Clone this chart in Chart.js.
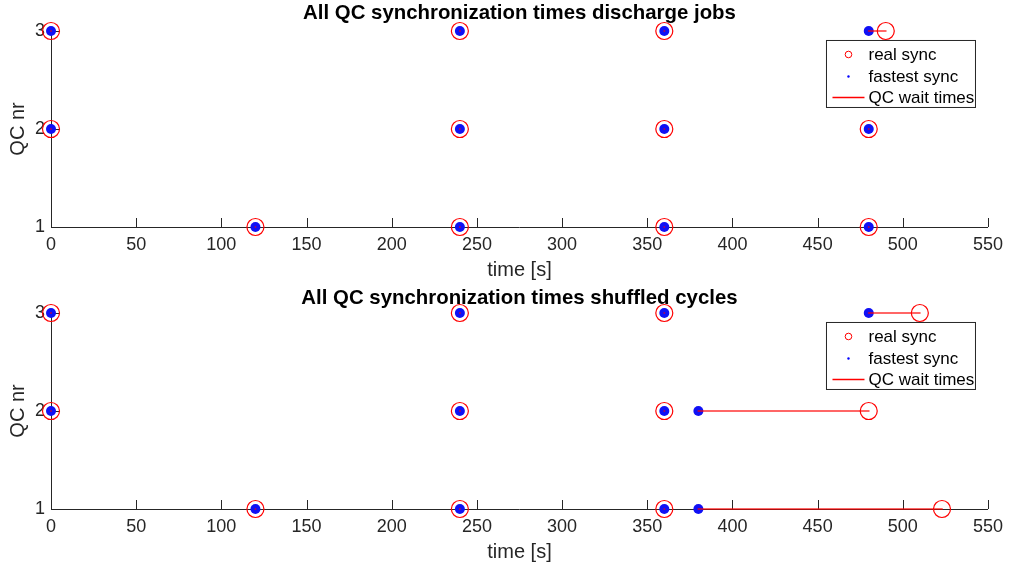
<!DOCTYPE html>
<html>
<head>
<meta charset="utf-8">
<title>QC synchronization times</title>
<script src="https://cdn.jsdelivr.net/npm/chart.js@4.4.0/dist/chart.umd.min.js"></script>
<style>
  body { margin: 0; background: #fff; }
  .panel { position: absolute; left: 0; width: 1010px; height: 286px; }
</style>
</head>
<body>
<div class="panel" style="top:0"><canvas id="discharge-chart" width="1010" height="286"></canvas></div>
<div class="panel" style="top:286px"><canvas id="shuffled-chart" width="1010" height="286"></canvas></div>
<script>
// QC number of every sync event (same order in both runs)
const qcNumbers = [3, 3, 3, 3, 2, 2, 2, 2, 1, 1, 1, 1];

// Discharge jobs: fastest possible vs. real sync time [s]
const dischargeFastest = [0, 240, 360, 480, 0, 240, 360, 480, 120, 240, 360, 480];
const dischargeReal = [0, 240, 360, 490, 0, 240, 360, 480, 120, 240, 360, 480];

// Shuffled cycles: fastest possible vs. real sync time [s]
const shuffledFastest = [0, 240, 360, 480, 0, 240, 360, 380, 120, 240, 360, 380];
const shuffledReal = [0, 240, 360, 510, 0, 240, 360, 480, 120, 240, 360, 523];

const xTicks = [0, 50, 100, 150, 200, 250, 300, 350, 400, 450, 500, 550];
const yTicks = [1, 2, 3];

const legendLabels = ['real sync', 'fastest sync', 'QC wait times'];

const AXIS_COLOR = '#262626';
const FONT = '"Liberation Sans", Arial, Helvetica, sans-serif';
const WAIT_COLOR = 'rgba(255, 0, 0, 0.6)';

Chart.defaults.font.family = FONT;
Chart.defaults.color = AXIS_COLOR;

// Inward tick marks, like the original plotting tool draws them
const innerTicks = {
  id: 'innerTicks',
  beforeDatasetsDraw(chart) {
    const { ctx, chartArea, scales } = chart;
    ctx.save();
    ctx.strokeStyle = AXIS_COLOR;
    ctx.lineWidth = 1;
    ctx.beginPath();
    scales.x.ticks.forEach(t => {
      const px = Math.round(scales.x.getPixelForValue(t.value)) + 0.5;
      ctx.moveTo(px, chartArea.bottom);
      ctx.lineTo(px, chartArea.bottom - 9);
    });
    scales.y.ticks.forEach(t => {
      const py = Math.round(scales.y.getPixelForValue(t.value)) + 0.5;
      ctx.moveTo(chartArea.left, py);
      ctx.lineTo(chartArea.left + 9, py);
    });
    ctx.stroke();
    ctx.restore();
  }
};

// Boxed legend in the upper right corner of the axes
const boxLegend = {
  id: 'boxLegend',
  afterDraw(chart) {
    const { ctx, chartArea } = chart;
    const x0 = chartArea.right - 161.5;
    const y0 = chartArea.top + 9.5;
    const w = 149;
    const h = 67;
    ctx.save();
    ctx.fillStyle = '#fff';
    ctx.fillRect(x0, y0, w, h);
    ctx.strokeStyle = AXIS_COLOR;
    ctx.lineWidth = 1;
    ctx.strokeRect(x0, y0, w, h);

    const mx = x0 + 22;
    const rows = [y0 + 14, y0 + 36, y0 + 57];

    // real sync marker
    ctx.strokeStyle = '#ff0000';
    ctx.beginPath();
    ctx.arc(mx, rows[0], 3.3, 0, Math.PI * 2);
    ctx.stroke();
    // fastest sync marker
    ctx.fillStyle = '#0000ff';
    ctx.beginPath();
    ctx.arc(mx, rows[1], 1.2, 0, Math.PI * 2);
    ctx.fill();
    // wait time line
    ctx.strokeStyle = '#ff0000';
    ctx.lineWidth = 1.3;
    ctx.beginPath();
    ctx.moveTo(x0 + 6, rows[2]);
    ctx.lineTo(x0 + 38, rows[2]);
    ctx.stroke();

    ctx.fillStyle = '#000';
    ctx.font = '17px ' + FONT;
    ctx.textBaseline = 'middle';
    legendLabels.forEach((label, i) => ctx.fillText(label, x0 + 42, rows[i] + 1));
    ctx.restore();
  }
};

const buildChart = (canvasId, titleText, fastest, real, layout) => {
  const toPoints = xs => xs.map((x, i) => ({ x: x, y: qcNumbers[i] }));

  // One segment per sync event, from fastest to real time
  const waitSegments = fastest.map((x, i) => ({
    type: 'line',
    data: [{ x: x, y: qcNumbers[i] }, { x: real[i], y: qcNumbers[i] }],
    borderColor: WAIT_COLOR,
    borderWidth: 2,
    borderCapStyle: 'round',
    pointRadius: 0,
    fill: false,
    clip: false,
    order: 0
  }));

  return new Chart(document.getElementById(canvasId), {
    type: 'scatter',
    data: {
      datasets: [
        {
          label: legendLabels[0],
          data: toPoints(real),
          pointStyle: 'circle',
          pointRadius: 8.5,
          pointBorderWidth: 1.2,
          pointBorderColor: 'red',
          pointBackgroundColor: 'rgba(0,0,0,0)',
          clip: false,
          order: 2
        },
        {
          label: legendLabels[1],
          data: toPoints(fastest),
          pointStyle: 'circle',
          pointRadius: 5,
          pointBorderWidth: 0,
          pointBackgroundColor: '#1010f5',
          clip: false,
          order: 1
        },
        ...waitSegments
      ]
    },
    options: {
      responsive: false,
      animation: false,
      devicePixelRatio: 1,
      layout: { padding: { top: 0, left: 0, right: 22, bottom: layout.padBottom } },
      plugins: {
        legend: { display: false },
        tooltip: { enabled: false },
        title: {
          display: true,
          fullSize: false,
          text: titleText,
          color: '#000',
          font: { size: 20.4, weight: 'bold' },
          padding: { top: layout.titleTop, bottom: layout.titleBottom }
        }
      },
      scales: {
        x: {
          type: 'linear',
          min: 0,
          max: 550,
          afterBuildTicks: scale => { scale.ticks = xTicks.map(v => ({ value: v })); },
          afterFit: scale => { scale.height = 59; },
          grid: { display: false, drawTicks: false },
          border: { display: true, color: AXIS_COLOR, width: 1 },
          ticks: { color: AXIS_COLOR, font: { size: 18 }, padding: 7, maxRotation: 0 },
          title: { display: true, text: 'time [s]', color: AXIS_COLOR, font: { size: 20 }, padding: { top: 0, bottom: 4 } }
        },
        y: {
          type: 'linear',
          min: 1,
          max: 3,
          afterBuildTicks: scale => { scale.ticks = yTicks.map(v => ({ value: v })); },
          afterFit: scale => { scale.width = 51; },
          grid: { display: false, drawTicks: false },
          border: { display: true, color: AXIS_COLOR, width: 1 },
          ticks: { color: AXIS_COLOR, font: { size: 18 }, padding: 6 },
          title: { display: true, text: 'QC nr', color: AXIS_COLOR, font: { size: 20 }, padding: { top: 6, bottom: 0 } }
        }
      }
    },
    plugins: [innerTicks, boxLegend]
  });
};

buildChart('discharge-chart', 'All QC synchronization times discharge jobs',
  dischargeFastest, dischargeReal, { titleTop: 1, titleBottom: 5.5, padBottom: 0 });
buildChart('shuffled-chart', 'All QC synchronization times shuffled cycles',
  shuffledFastest, shuffledReal, { titleTop: 0, titleBottom: 2.5, padBottom: 4 });
</script>
</body>
</html>
